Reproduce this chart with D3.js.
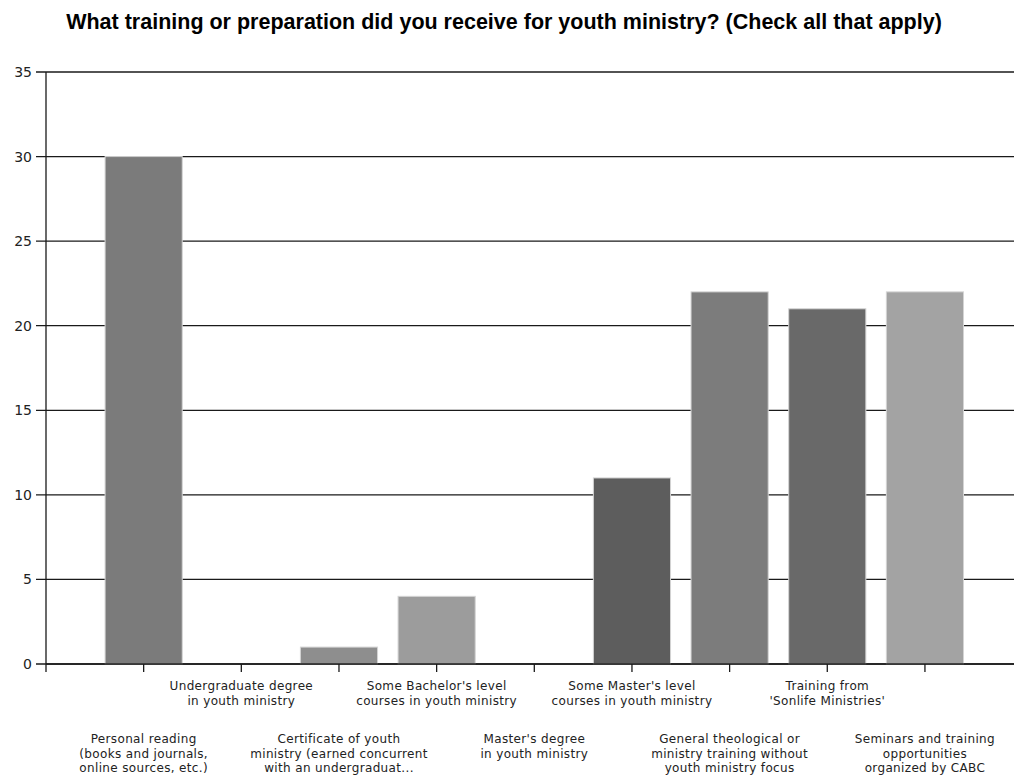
<!DOCTYPE html>
<html>
<head>
<meta charset="utf-8">
<title>Youth ministry training</title>
<style>
    body { margin: 0; background: #fff; }
    .title { font: bold 21.5px "Liberation Sans", Arial, sans-serif; text-anchor: middle; fill: #000; }
    .ylab { font: 14px "DejaVu Sans", sans-serif; fill: #222; text-anchor: end; }
    .xlab { font: 12px "DejaVu Sans", sans-serif; letter-spacing: 0.35px; fill: #222; text-anchor: middle; }
</style>
</head>
<body>
<svg width="1014" height="776"></svg>
<script src="https://d3js.org/d3.v7.min.js"></script>
<script>

var categories = [
    ["Personal reading", "(books and journals,", "online sources, etc.)"],
    ["Undergraduate degree", "in youth ministry"],
    ["Certificate of youth", "ministry (earned concurrent", "with an undergraduat..."],
    ["Some Bachelor's level", "courses in youth ministry"],
    ["Master's degree", "in youth ministry"],
    ["Some Master's level", "courses in youth ministry"],
    ["General theological or", "ministry training without", "youth ministry focus"],
    ["Training from", "'Sonlife Ministries'"],
    ["Seminars and training", "opportunities", "organized by CABC"]
];
var counts = [30, 0, 1, 4, 0, 11, 22, 21, 22];
var barColors = ["#7b7b7b", "#888888", "#8e8e8e", "#9c9c9c", "#777777", "#5d5d5d", "#7c7c7c", "#696969", "#a3a3a3"];
var yTicks = [0, 5, 10, 15, 20, 25, 30, 35];
var title = "What training or preparation did you receive for youth ministry? (Check all that apply)";

var svg = d3.select("svg");

var x = d3.scaleLinear().domain([0, 10]).range([46, 1022.6]);
var y = d3.scaleLinear().domain([0, 35]).range([664, 72]);
var step = x(1) - x(0),
    barW = step * 0.79;

svg.append("text")
    .attr("class", "title")
    .attr("x", 504)
    .attr("y", 29)
    .text(title);

// gridlines
svg.append("g").selectAll("line")
    .data(yTicks)
    .enter().append("line")
    .attr("x1", 36).attr("x2", 1014)
    .attr("y1", function(d) { return y(d); })
    .attr("y2", function(d) { return y(d); })
    .attr("stroke", "#1a1a1a")
    .attr("stroke-width", 1.3);

svg.append("g").selectAll("text")
    .data(yTicks)
    .enter().append("text")
    .attr("class", "ylab")
    .attr("x", 32)
    .attr("y", function(d) { return y(d) + 5; })
    .text(function(d) { return d; });

// bars (zero-count categories get no bar)
var barData = counts.map(function(v, i) { return { v: v, i: i }; })
    .filter(function(d) { return d.v > 0; });

svg.append("g").selectAll("rect")
    .data(barData)
    .enter().append("rect")
    .attr("x", function(d) { return x(d.i + 1) - barW / 2; })
    .attr("width", barW)
    .attr("y", function(d) { return y(d.v); })
    .attr("height", function(d) { return y(0) - y(d.v); })
    .attr("fill", function(d) { return barColors[d.i]; })
    .attr("stroke", "#d4d4d4")
    .attr("stroke-width", 1);

// axes lines
svg.append("line")
    .attr("x1", 46).attr("x2", 46)
    .attr("y1", y(35)).attr("y2", 672)
    .attr("stroke", "#1a1a1a").attr("stroke-width", 1.3);
svg.append("line")
    .attr("x1", 46).attr("x2", 1014)
    .attr("y1", y(0)).attr("y2", y(0))
    .attr("stroke", "#1a1a1a").attr("stroke-width", 1.3);

svg.append("g").selectAll("line")
    .data(categories)
    .enter().append("line")
    .attr("x1", function(d, i) { return x(i + 1); })
    .attr("x2", function(d, i) { return x(i + 1); })
    .attr("y1", y(0)).attr("y2", 672)
    .attr("stroke", "#1a1a1a").attr("stroke-width", 1.3);

// staggered category labels
var lab = svg.append("g").selectAll("text")
    .data(categories)
    .enter().append("text")
    .attr("class", "xlab")
    .attr("transform", function(d, i) {
        return "translate(" + x(i + 1) + "," + (i % 2 ? 690 : 743) + ")";
    });

lab.selectAll("tspan")
    .data(function(d) { return d; })
    .enter().append("tspan")
    .attr("x", 0)
    .attr("y", function(d, j) { return j * 14.6; })
    .text(function(d) { return d; });

</script>
</body>
</html>
